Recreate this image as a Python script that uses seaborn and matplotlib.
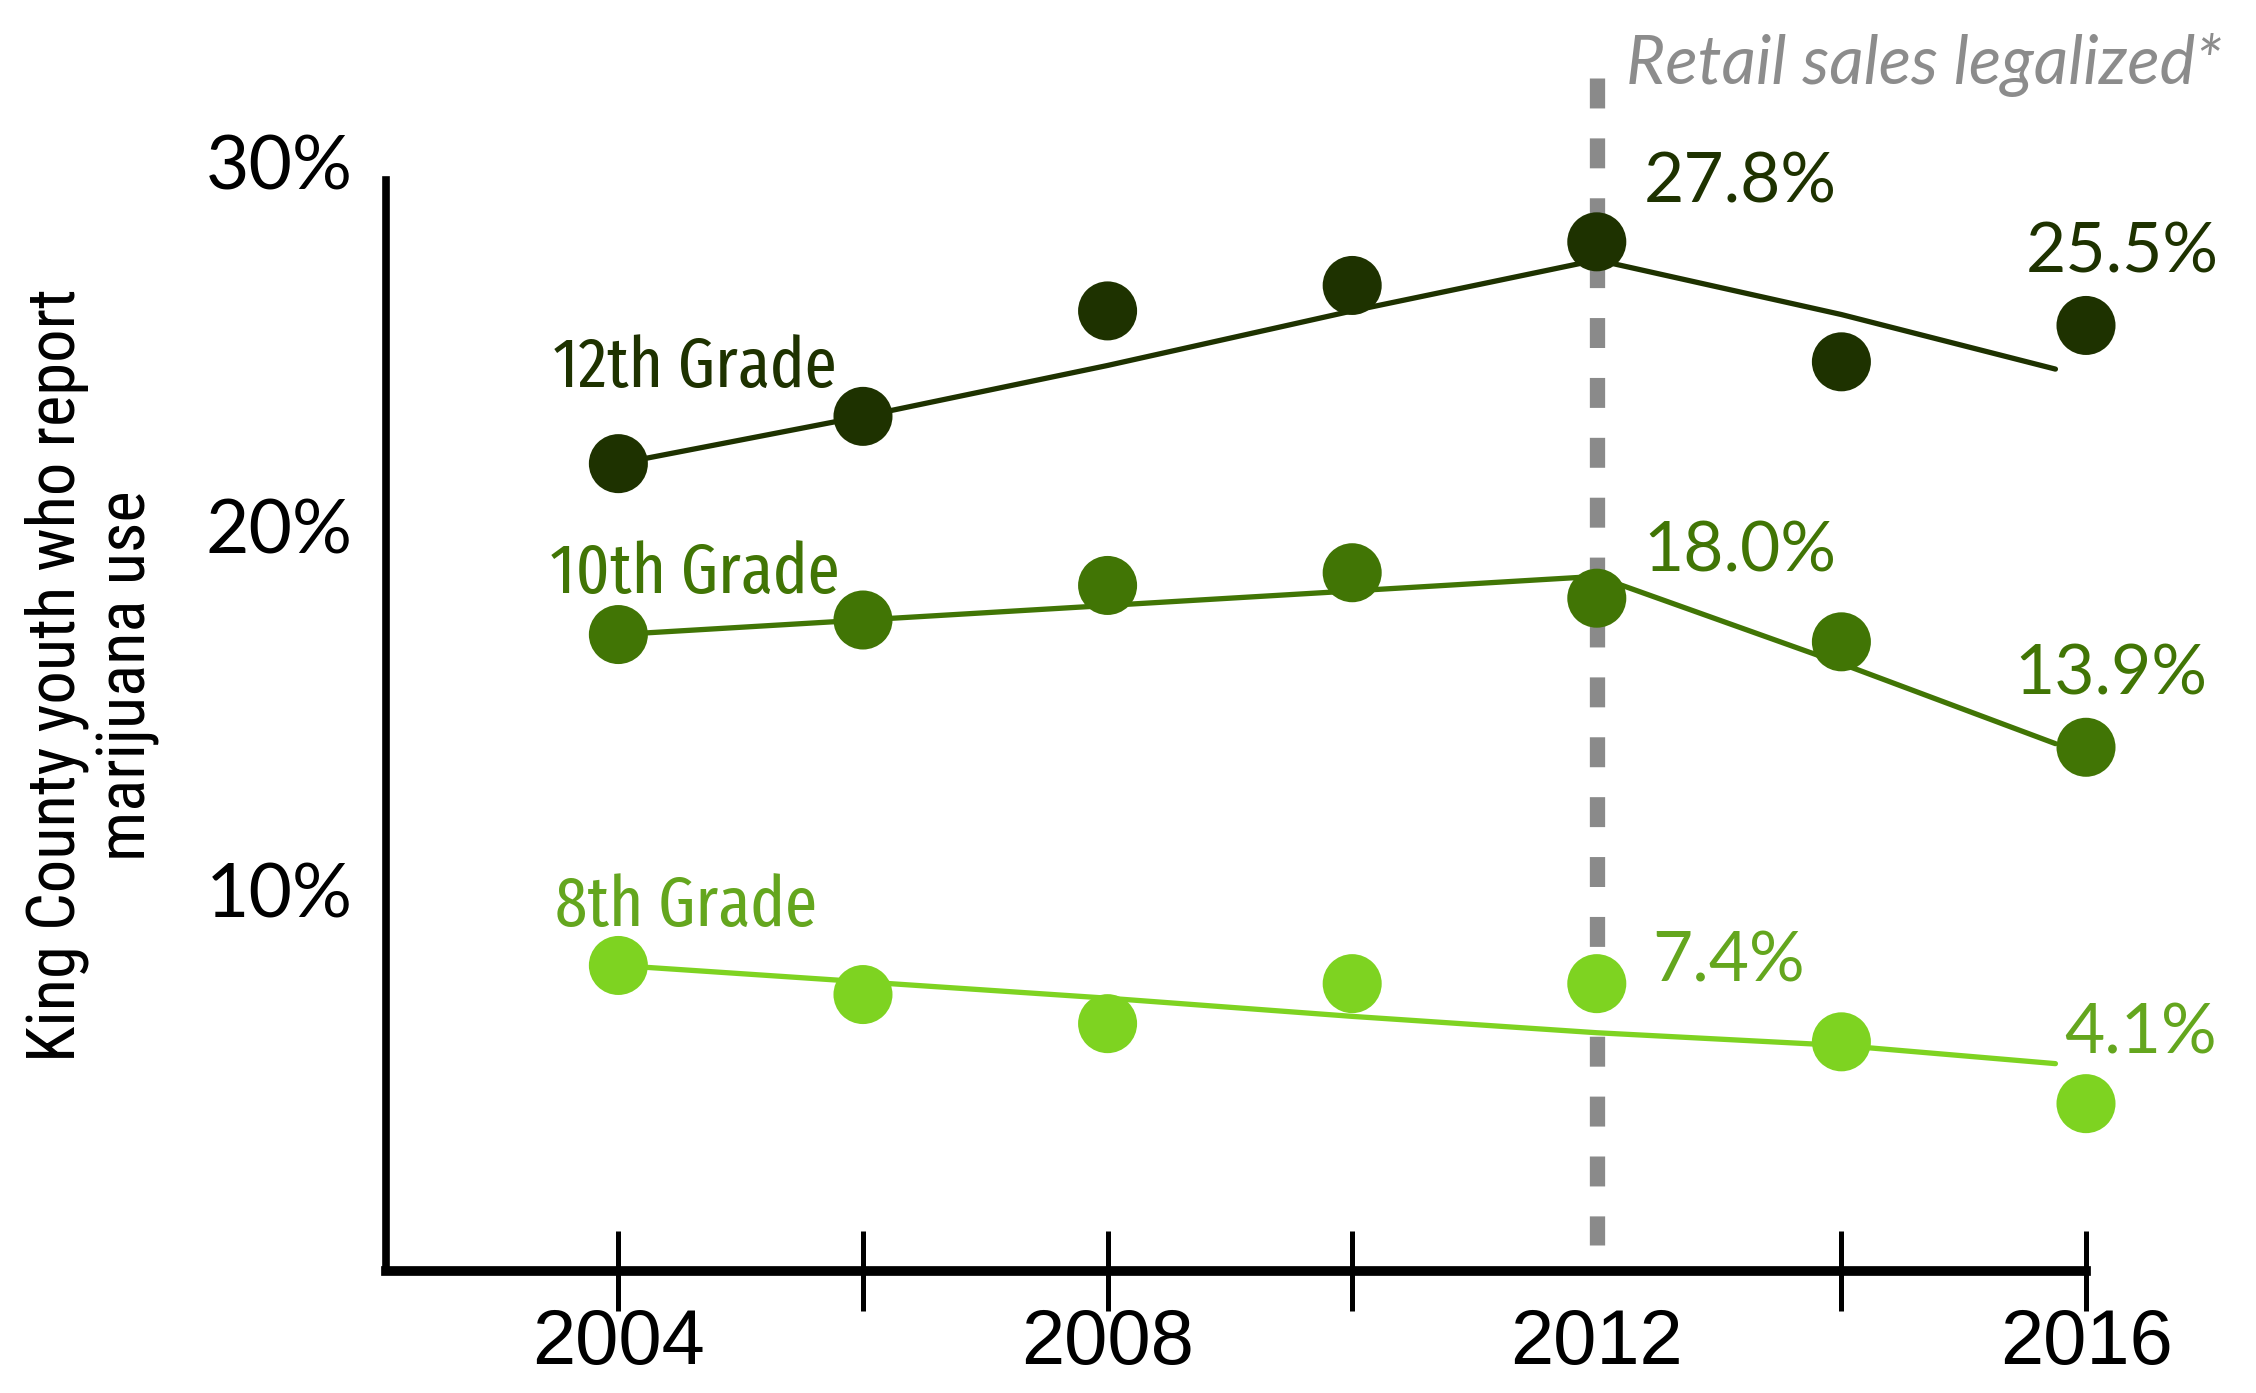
import matplotlib
matplotlib.use("Agg")
import matplotlib.pyplot as plt
import seaborn as sns
import pandas as pd

# ---------------- data ----------------
years = [2004, 2006, 2008, 2010, 2012, 2014, 2016]
grade12 = [21.7, 23.0, 25.9, 26.6, 27.8, 24.5, 25.5]
grade10 = [17.0, 17.4, 18.35, 18.7, 18.0, 16.8, 13.9]
grade8 = [7.9, 7.1, 6.3, 7.4, 7.4, 5.8, 4.1]

trend_years = [2004, 2006, 2008, 2010, 2012, 2014, 2015.75]
trend12 = [21.7, 23.0, 24.4, 25.9, 27.3, 25.8, 24.3]
trend10 = [17.0, 17.4, 17.8, 18.2, 18.6, 16.2, 14.0]
trend8 = [7.9, 7.45, 7.0, 6.5, 6.05, 5.7, 5.2]

grades = ["12th Grade", "10th Grade", "8th Grade"]
legal_year = 2012
legal_label = "Retail sales legalized*"
y_ticks = [10, 20, 30]
y_tick_labels = ["10%", "20%", "30%"]
x_label_years = [2004, 2008, 2012, 2016]
x_tick_years = [2004, 2006, 2008, 2010, 2014, 2016]
y_title = "King County youth who report\nmarijuana use"

df = pd.DataFrame({
    "year": years * 3,
    "pct": grade12 + grade10 + grade8,
    "grade": [g for g in grades for _ in years],
})
trend_df = pd.DataFrame({
    "year": trend_years * 3,
    "pct": trend12 + trend10 + trend8,
    "grade": [g for g in grades for _ in trend_years],
})

# ---------------- style ----------------
sns.set_style("white")
plt.rcParams["font.family"] = ["Lato", "DejaVu Sans"]

point_colors = {"12th Grade": "#1e3200", "10th Grade": "#417505", "8th Grade": "#7ed321"}
text_colors = {"12th Grade": "#1e3200", "10th Grade": "#417505", "8th Grade": "#64a61e"}
grade_font = ["Fira Sans Extra Condensed", "Roboto Condensed", "Liberation Sans"]
title_font = ["Roboto Condensed", "Liberation Sans"]

fig = plt.figure(figsize=(22.56, 13.93), dpi=100)
ax = fig.add_axes([0.1711, 0.0879, 0.8289, 0.9121])
xlim = (2002.1, 2017.39)
ylim = (-0.49, 34.45)

# dashed legalization line
ax.plot([legal_year, legal_year], [32.3, 0.2], color="#8a8a8a", lw=11,
        dashes=(1.96, 1.96), dash_capstyle="butt", zorder=1)

sns.lineplot(data=trend_df, x="year", y="pct", hue="grade", palette=point_colors,
             estimator=None, sort=False, lw=3.8, legend=False, ax=ax, zorder=2)
sns.scatterplot(data=df, x="year", y="pct", hue="grade", palette=point_colors,
                s=1806, linewidth=0, legend=False, ax=ax, zorder=3)

ax.set_xlim(*xlim)
ax.set_ylim(*ylim)
ax.set_xlabel("")
ax.set_ylabel("")

for s in ["top", "right"]:
    ax.spines[s].set_visible(False)
ax.spines["left"].set_linewidth(5.5)
ax.spines["left"].set_color("black")
ax.spines["left"].set_bounds(ylim[0], 29.5)
ax.spines["bottom"].set_linewidth(7)
ax.spines["bottom"].set_color("black")
ax.spines["bottom"].set_bounds(xlim[0], 2016)

ax.xaxis.remove_overlapping_locs = False
ax.set_xticks(x_label_years)
ax.set_xticklabels([str(y) for y in x_label_years])
ax.set_xticks(x_tick_years, minor=True)
ax.tick_params(axis="x", which="major", length=0, pad=26, labelsize=56,
               labelcolor="black")
ax.tick_params(axis="x", which="minor", length=57, width=3.6, direction="inout",
               color="black", bottom=True)
for lab in ax.get_xticklabels():
    lab.set_fontfamily(["Liberation Sans", "DejaVu Sans"])

ax.set_yticks(y_ticks)
ax.set_yticklabels(y_tick_labels)
ax.tick_params(axis="y", length=0, pad=24, labelsize=54, labelcolor="black")
for lab in ax.get_yticklabels():
    lab.set_fontfamily(["Lato", "DejaVu Sans"])
    lab.set_fontweight("normal")

# grade labels near first point
grade_offsets = {"12th Grade": (-65, 95), "10th Grade": (-68, 60), "8th Grade": (-63, 58)}
series = {"12th Grade": grade12, "10th Grade": grade10, "8th Grade": grade8}
for g in grades:
    ax.annotate(g, xy=(years[0], series[g][0]), xytext=grade_offsets[g],
                textcoords="offset pixels", ha="left", va="center",
                fontsize=51, color=text_colors[g], family=grade_font)

# value labels at 2012 and 2016
lab_offsets = {
    ("12th Grade", 4): (47, 59), ("12th Grade", 6): (-60, 72),
    ("10th Grade", 4): (47, 46), ("10th Grade", 6): (-72, 72),
    ("8th Grade", 4): (55, 22), ("8th Grade", 6): (-22, 70),
}
for (g, i), off in lab_offsets.items():
    v = series[g][i]
    ax.annotate(f"{v:.1f}%", xy=(years[i], v), xytext=off, textcoords="offset pixels",
                ha="left", va="center", fontsize=50, color=text_colors[g],
                family=["Lato", "DejaVu Sans"])

ax.annotate(legal_label, xy=(legal_year, 32.3), xytext=(29, 13),
            textcoords="offset pixels", ha="left", va="center", fontsize=48.5,
            style="italic", color="#8c8c8c", family=["Lato", "DejaVu Sans"])

fig.text(0.041, 0.515, y_title, rotation=90, ha="center", va="center",
         fontsize=48, family=title_font, linespacing=1.12,
         color="black", multialignment="center")

fig.savefig("out.png", dpi=100)
